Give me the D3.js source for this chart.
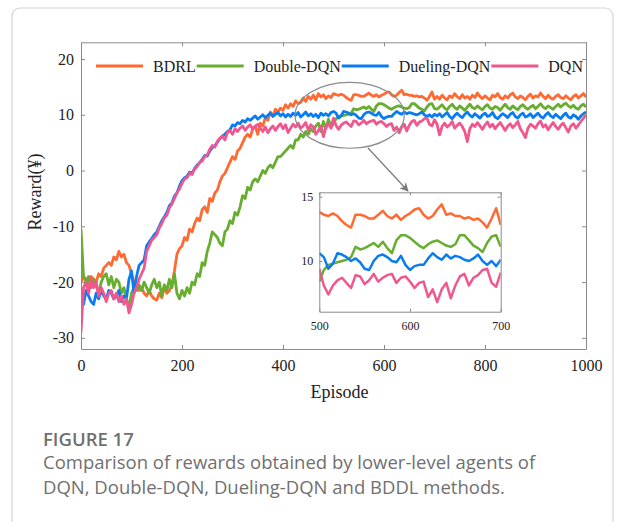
<!DOCTYPE html>
<html lang="en">
  <head>
    <meta charset="UTF-8" />
    <title>Figure 17: reward comparison</title>
    <script src="https://d3js.org/d3.v7.min.js"></script>
    <style>
      body { margin: 0; background: #fff; }
      .axis path, .axis line { stroke: #8a8a8a; }
      .axis text { font-family: "Liberation Serif", "Times New Roman", serif; fill: #222; }
      .caption { font-family: "Open Sans", sans-serif; fill: #707070; }
    </style>
  </head>
  <body>
    <div id="chart"></div>
    <script>
      // episodes sampled every 5
      const episodes = d3.range(0, 1001, 5);

      const seriesNames = ["BDRL", "Double-DQN", "Dueling-DQN", "DQN"];
      const seriesColors = ["#ff6a33", "#67ad2f", "#0a7cf2", "#f1578f"];

      const bdrl = [
        -20, -19, -19.5, -20.5, -19, -19.5, -20, -18.5, -19, -17.5,
        -17, -16.5, -17, -15.5, -16, -14.5, -15.5, -15, -16.5, -17,
        -18.5, -20, -21, -21.5, -21, -22, -22.5, -21.5, -22.5, -23,
        -23.2, -22, -22.8, -21, -22, -21.5, -20.5, -18, -15, -14,
        -13.5, -12, -12.5, -10.5, -11, -9.5, -8.5, -9, -7, -6.5,
        -7.5, -5, -5.5, -4, -3.5, -2, -1, -0.5, 0.5, 1.5,
        2.5, 2, 3.5, 4, 5, 6, 6.5, 6, 7.5, 8,
        6.5, 8.5, 8, 9.5, 9, 10.5, 9.8, 11, 10.5, 11.2,
        10.8, 11.8, 11.2, 12, 11.5, 12.5, 12, 12.2, 13, 12.4,
        13.3, 12.8, 13.5, 12.7, 13.8, 13.2, 13.6, 12.9, 13.4, 13.1,
        13.8, 13.6, 13.5, 13.7, 13.5, 13.1, 12.8, 12.6, 13.6, 13.6,
        13.5, 13.3, 13.3, 13.6, 13.9, 13.5, 13.3, 13.6, 13.2, 13.5,
        13.7, 14.0, 14.1, 13.6, 13.3, 13.5, 14.0, 14.4, 13.6, 13.7,
        13.5, 13.5, 13.3, 13.4, 13.2, 13.3, 13.0, 12.6, 13.3, 14.1,
        12.8,
        13.3, 12.8, 13.5, 13.0, 12.7, 13.4, 13.1, 13.8, 13.2, 12.9,
        13.6, 13.0, 13.3, 12.8, 13.5, 13.1, 13.9, 13.3, 12.9, 13.4,
        13.0, 12.7, 13.5, 13.2, 13.8, 13.1, 12.8, 13.4, 13.0, 13.6,
        13.9, 13.2, 12.9, 13.4, 13.1, 12.7, 13.3, 13.7, 13.0, 13.4,
        13.2, 13.9, 13.3, 12.9, 13.5, 13.0, 12.8, 13.3, 13.6, 13.1,
        12.9, 13.4, 13.0, 12.7, 13.3, 13.6, 13.0, 13.4, 13.8, 13.2
      ];

      const doubleDqn = [
        -10.5, -19, -20, -19, -21, -19.5, -20.5, -22, -20, -19,
        -18.5, -20.5, -19, -21, -19.5, -20, -22, -21, -23, -24.5,
        -22, -21, -21.5, -20.5, -21.5, -20, -21, -22, -20.5, -19.5,
        -21, -20, -22.5, -20.5, -21.5, -19.5, -21, -18.5, -22, -23,
        -21.5, -22.5, -21, -22, -20, -20.5, -18.5, -19, -16.5, -17,
        -14.5, -13, -11, -11.5, -12, -13, -13.5, -11, -10.5, -9,
        -9.5, -7.5, -8, -6.5, -4.5, -5, -3, -3.5, -2, -1.5,
        -2, -1, 0, -0.5, 0.5, 1, 0.5, 1.5, 2.5, 2.5,
        3, 3.5, 4, 4.5, 4, 5.5, 5.5, 6.5, 6, 7,
        6.5, 7.5, 7, 8, 8.5, 7, 8.8, 7.5, 9.2, 7.8,
        8.4, 9.3, 9.7, 9.8, 9.9, 10.0, 10.1, 10.3, 11.1, 10.9,
        11.0, 11.2, 11.4, 11.1, 11.5, 11.0, 10.6, 11.6, 12.0, 12.0,
        11.8, 11.5, 11.2, 11.0, 11.3, 11.5, 11.6, 11.4, 11.2, 11.1,
        11.3, 12.0, 12.0, 11.6, 11.2, 11.0, 10.7, 11.4, 11.9, 12.0,
        11.1,
        11.0, 11.4, 11.8, 11.2, 10.9, 11.5, 11.9, 11.3, 11.0, 11.6,
        11.2, 10.8, 11.4, 11.9, 11.3, 11.1, 11.6, 11.2, 10.9, 11.5,
        11.8, 11.2, 11.0, 11.5, 11.3, 10.8, 11.4, 11.9, 11.3, 11.0,
        11.6, 11.2, 10.9, 11.5, 11.8, 11.3, 11.0, 11.4, 11.7, 11.1,
        11.5, 12.0, 11.4, 11.1, 11.6, 11.3, 11.0, 11.5, 11.9, 11.4,
        11.8, 12.1, 11.6, 11.3, 11.7, 11.2, 11.0, 11.6, 11.9, 11.4
      ];

      const duelingDqn = [
        -22, -24, -21.5, -22.5, -23.5, -24, -22, -23, -21.5, -22.5,
        -23, -21.5, -22, -23, -22.5, -21.5, -23.5, -22.5, -23, -19.5,
        -18, -22, -19, -17, -16.5, -16, -13.5, -12.8, -12.2, -11.5,
        -11, -10, -9, -8.3, -7.5, -6.3, -5.8, -4.6, -4, -2.8,
        -1.8, -1.3, -1, -0.3, -0.5, 0.4, 1, 1.4, 2, 2.7,
        2.6, 3.5, 4.1, 4.4, 5.1, 5.7, 6.2, 6.5, 7, 7.3,
        8.2, 8.0, 8.6, 8.4, 9.0, 8.7, 9.3, 9.0, 9.4, 9.8,
        9.2, 9.6, 10.0, 9.5, 9.9, 10.3, 9.7, 10.1, 10.4, 9.8,
        10.2, 9.6, 10.1, 9.7, 10.3, 9.9, 10.4, 9.6, 10.0, 10.5,
        9.8, 10.2, 9.7, 10.1, 9.5, 10.3, 9.9, 10.2, 9.8, 10.4,
        10.6, 10.3, 9.4, 9.8, 10.6, 10.5, 10.3, 10.0, 10.2, 9.9,
        9.4, 9.3, 10.0, 10.4, 10.5, 10.3, 10.0, 9.9, 10.4, 9.7,
        9.3, 9.6, 9.7, 9.7, 10.2, 10.6, 10.3, 10.1, 10.5, 10.2,
        10.4, 10.3, 10.1, 10.0, 10.2, 10.5, 10.0, 9.7, 10.0, 9.6,
        10.1,
        9.8, 10.2, 9.6, 10.0, 10.4, 9.7, 9.3, 9.9, 10.3, 9.8,
        9.5, 10.1, 10.5, 9.9, 9.6, 10.2, 9.8, 9.4, 10.0, 10.3,
        9.7, 9.9, 10.4, 9.6, 9.3, 9.8, 10.2, 9.9, 9.5, 10.1,
        10.4, 9.7, 9.4, 10.0, 10.3, 9.6, 9.8, 10.2, 9.5, 9.9,
        10.3, 9.7, 9.4, 10.0, 10.4, 9.8, 9.5, 10.1, 9.7, 9.3,
        9.9, 10.3, 9.6, 9.4, 10.0, 9.7, 9.2, 9.8, 10.2, 10.5
      ];

      const dqn = [
        -29, -21, -20, -22, -19.5, -21, -20, -22.5, -21, -22,
        -23.5, -22, -21.5, -23, -22, -23.5, -22.5, -24, -23, -25.5,
        -24, -22, -21, -19.5, -18.5, -17.5, -14.5, -13.5, -12.5, -12,
        -11.5, -10.3, -9.5, -8.5, -8, -6.7, -6, -5, -4, -3.3,
        -2.3, -1.5, -1.3, -0.5, -0.7, 0.3, 0.7, 1.5, 1.7, 2.5,
        2.8, 3.8, 4.5, 4.2, 5.2, 5.8, 6.2, 5.5, 6.8, 7.2,
        6.5, 7.5, 7.0, 7.6, 8.0, 7.2, 7.8, 8.2, 7.4, 7.9,
        8.3, 7.6, 7.0, 7.8, 6.8, 7.5, 8.0, 7.2, 7.9, 8.4,
        7.5, 8.2, 6.8, 7.6, 8.3, 7.8, 8.5, 7.6, 8.0, 8.6,
        7.3, 8.2, 7.8, 6.5, 7.2, 8.0, 6.1, 7.8, 8.4, 7.6,
        9.4, 8.1, 7.4, 8.1, 8.5, 8.7, 8.3, 7.9, 8.9, 8.8,
        8.2, 8.5, 9.0, 8.4, 8.7, 8.9, 9.0, 8.3, 8.7, 8.8,
        8.4, 7.9, 8.3, 8.4, 7.2, 7.8, 6.8, 7.8, 8.3, 7.1,
        8.1, 8.8, 9.0, 8.1, 8.7, 8.9, 9.3, 9.4, 8.3, 8.0,
        9.1,
        8.3, 6.4, 7.9, 8.5, 7.8, 8.2, 8.8, 7.6, 8.1, 8.5,
        7.9, 7.0, 5.2, 7.5, 8.3, 7.9, 8.6, 8.0, 7.4, 8.2,
        8.7, 7.8, 8.3, 7.5, 8.1, 8.6, 7.9, 7.2, 8.0, 8.4,
        7.7, 8.2, 8.8, 7.5, 6.8, 5.9, 7.6, 8.3, 8.0, 7.6,
        8.4, 8.9, 7.8, 8.2, 7.3, 8.0, 8.6, 7.9, 7.4, 8.1,
        8.5, 7.7, 6.9, 8.0, 8.4, 7.6, 8.2, 8.8, 9.4, 10.0
      ];

      const xTicks = [0, 200, 400, 600, 800, 1000];
      const yTicks = [-30, -20, -10, 0, 10, 20];
      const insetXTicks = [500, 600, 700];
      const insetYTicks = [10, 15];

      const captionTitle = "FIGURE 17";
      const captionLines = [
        "Comparison of rewards obtained by lower-level agents of",
        "DQN, Double-DQN, Dueling-DQN and BDDL methods."
      ];

      const values = [bdrl, doubleDqn, duelingDqn, dqn];
      const series = seriesNames.map((name, i) => ({
        name,
        color: seriesColors[i],
        points: episodes.map((e, j) => ({ e, v: values[i][j] }))
      }));

      const width = 624;
      const height = 522;
      const plot = { left: 81, right: 586, top: 42.3, bottom: 349 };
      const plain = (d) => String(d); // hyphen minus, no thousands comma

      const svg = d3
        .select("#chart")
        .append("svg")
        .attr("width", width)
        .attr("height", height);

      // card outline
      svg
        .append("rect")
        .attr("x", 12)
        .attr("y", 8)
        .attr("width", 601)
        .attr("height", 540)
        .attr("rx", 8)
        .attr("fill", "none")
        .attr("stroke", "#d4d4d4")
        .attr("stroke-width", 1.2);

      const x = d3.scaleLinear().domain([0, 1000]).range([plot.left, plot.right]);
      const y = d3.scaleLinear().domain([-32, 23]).range([plot.bottom, plot.top]);

      const defs = svg.append("defs");
      defs
        .append("clipPath")
        .attr("id", "plot-clip")
        .append("rect")
        .attr("x", plot.left)
        .attr("y", plot.top)
        .attr("width", plot.right - plot.left)
        .attr("height", plot.bottom - plot.top);

      const line = d3
        .line()
        .x((d) => x(d.e))
        .y((d) => y(d.v));

      svg
        .append("g")
        .attr("clip-path", "url(#plot-clip)")
        .selectAll("path")
        .data(series)
        .enter()
        .append("path")
        .attr("d", (d) => line(d.points))
        .attr("fill", "none")
        .attr("stroke", (d) => d.color)
        .attr("stroke-width", 2.8)
        .attr("stroke-linejoin", "round");

      // axes, boxed with inward ticks
      svg
        .append("g")
        .attr("class", "axis")
        .attr("transform", `translate(0,${plot.bottom})`)
        .call(d3.axisBottom(x).tickValues(xTicks).tickFormat(plain).tickSize(-4).tickSizeOuter(0).tickPadding(11))
        .call((g) => g.selectAll("text").attr("font-size", 16));
      svg
        .append("g")
        .attr("class", "axis")
        .attr("transform", `translate(0,${plot.top})`)
        .call(d3.axisTop(x).tickValues(xTicks).tickSize(-4).tickSizeOuter(0).tickFormat(""));
      svg
        .append("g")
        .attr("class", "axis")
        .attr("transform", `translate(${plot.left},0)`)
        .call(d3.axisLeft(y).tickValues(yTicks).tickFormat(plain).tickSize(-4).tickSizeOuter(0).tickPadding(7))
        .call((g) => g.selectAll("text").attr("font-size", 16));
      svg
        .append("g")
        .attr("class", "axis")
        .attr("transform", `translate(${plot.right},0)`)
        .call(d3.axisRight(y).tickValues(yTicks).tickSize(-4).tickSizeOuter(0).tickFormat(""));

      svg
        .append("text")
        .attr("x", (plot.left + plot.right) / 2 + 6)
        .attr("y", 398)
        .attr("text-anchor", "middle")
        .attr("font-family", "Liberation Serif, serif")
        .attr("font-size", 18)
        .attr("fill", "#222")
        .text("Episode");

      svg
        .append("text")
        .attr("transform", "translate(41,192) rotate(-90)")
        .attr("text-anchor", "middle")
        .attr("font-family", "Liberation Serif, serif")
        .attr("font-size", 18)
        .attr("fill", "#222")
        .text("Reward(¥)");

      // legend across the top of the plot
      const legend = svg.append("g").attr("transform", "translate(96,66)");
      let lx = 0;
      series.forEach((s) => {
        legend
          .append("line")
          .attr("x1", lx)
          .attr("x2", lx + 47)
          .attr("y1", 0)
          .attr("y2", 0)
          .attr("stroke", s.color)
          .attr("stroke-width", 2.8);
        const t = legend
          .append("text")
          .attr("x", lx + 57)
          .attr("y", 5.5)
          .attr("font-family", "Liberation Serif, serif")
          .attr("font-size", 16)
          .attr("fill", "#222")
          .text(s.name);
        lx += 57 + t.node().getComputedTextLength() + 1;
      });

      // zoom ellipse and arrow
      svg
        .append("ellipse")
        .attr("cx", x(532))
        .attr("cy", y(9.9))
        .attr("rx", x(640) - x(532))
        .attr("ry", y(9.9) - y(15.8))
        .attr("fill", "none")
        .attr("stroke", "#8c8c8c")
        .attr("stroke-width", 1.2);

      defs
        .append("marker")
        .attr("id", "arrow")
        .attr("viewBox", "0 0 10 10")
        .attr("refX", 9)
        .attr("refY", 5)
        .attr("markerWidth", 9)
        .attr("markerHeight", 9)
        .attr("markerUnits", "userSpaceOnUse")
        .attr("orient", "auto")
        .append("path")
        .attr("d", "M0,0L10,5L0,10L3,5Z")
        .attr("fill", "#7a7a7a");

      svg
        .append("line")
        .attr("x1", 368)
        .attr("y1", 148)
        .attr("x2", 408)
        .attr("y2", 191)
        .attr("stroke", "#7a7a7a")
        .attr("stroke-width", 1.2)
        .attr("marker-end", "url(#arrow)");

      // inset 500-700
      const inset = { left: 319.3, right: 500.7, top: 192.3, bottom: 311.7 };
      const xi = d3.scaleLinear().domain([500, 700]).range([inset.left, inset.right]);
      const yi = d3.scaleLinear().domain([6.06, 15.34]).range([inset.bottom, inset.top]);

      svg
        .append("rect")
        .attr("x", inset.left)
        .attr("y", inset.top)
        .attr("width", inset.right - inset.left)
        .attr("height", inset.bottom - inset.top)
        .attr("fill", "#fff");

      defs
        .append("clipPath")
        .attr("id", "inset-clip")
        .append("rect")
        .attr("x", inset.left)
        .attr("y", inset.top)
        .attr("width", inset.right - inset.left)
        .attr("height", inset.bottom - inset.top);

      const insetLine = d3
        .line()
        .x((d) => xi(d.e))
        .y((d) => yi(d.v));

      svg
        .append("g")
        .attr("clip-path", "url(#inset-clip)")
        .selectAll("path")
        .data(series)
        .enter()
        .append("path")
        .attr("d", (d) => insetLine(d.points.filter((p) => p.e >= 500 && p.e <= 700)))
        .attr("fill", "none")
        .attr("stroke", (d) => d.color)
        .attr("stroke-width", 2.5)
        .attr("stroke-linejoin", "round");

      svg
        .append("g")
        .attr("class", "axis")
        .attr("transform", `translate(0,${inset.bottom})`)
        .call(d3.axisBottom(xi).tickValues(insetXTicks).tickFormat(plain).tickSize(-3).tickSizeOuter(0).tickPadding(10))
        .call((g) => g.selectAll("text").attr("font-size", 12));
      svg
        .append("g")
        .attr("class", "axis")
        .attr("transform", `translate(0,${inset.top})`)
        .call(d3.axisTop(xi).tickValues(insetXTicks).tickSize(-3).tickSizeOuter(0).tickFormat(""));
      svg
        .append("g")
        .attr("class", "axis")
        .attr("transform", `translate(${inset.left},0)`)
        .call(d3.axisLeft(yi).tickValues(insetYTicks).tickFormat(plain).tickSize(-3).tickSizeOuter(0).tickPadding(6))
        .call((g) => g.selectAll("text").attr("font-size", 12));
      svg
        .append("g")
        .attr("class", "axis")
        .attr("transform", `translate(${inset.right},0)`)
        .call(d3.axisRight(yi).tickValues(insetYTicks).tickSize(-3).tickSizeOuter(0).tickFormat(""));

      svg.selectAll(".axis text").attr("font-family", "Liberation Serif, Times New Roman, serif");

      // caption
      svg
        .append("text")
        .attr("class", "caption")
        .attr("x", 43)
        .attr("y", 446)
        .attr("font-size", 18.5)
        .attr("font-weight", 600)
        .attr("fill", "#5e5e5e")
        .text(captionTitle);

      svg
        .selectAll(".caption-line")
        .data(captionLines)
        .enter()
        .append("text")
        .attr("class", "caption")
        .attr("x", 43)
        .attr("y", (d, i) => 469 + i * 24.5)
        .attr("font-size", 18.5)
        .text((d) => d);
    </script>
  </body>
</html>
